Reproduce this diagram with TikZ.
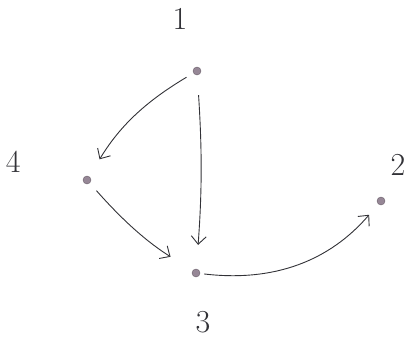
\documentclass[tikz,border=0pt]{standalone}
\usepackage{tikz}
\usetikzlibrary{arrows.meta,positioning}
\definecolor{dotgray}{RGB}{150,135,150}
\definecolor{pencil}{RGB}{50,50,55}

\begin{document}
\begin{tikzpicture}[
    x=1pt, y=-1pt,
    vertex/.style={circle, fill=dotgray, draw=dotgray!70!black, line width=0.4pt, inner sep=0pt, minimum size=8pt},
    num/.style={font=\fontsize{32}{36}\selectfont, text=pencil, inner sep=0pt},
    edge/.style={-{Straight Barb[length=8pt, width=15pt]}, pencil, line width=0.9pt, shorten <=6pt, shorten >=3pt}
]
    \useasboundingbox (0,0) rectangle (413,346);

    % Vertices
    \node[vertex] (n1) at (197,71) {};
    \node[vertex] (n4) at (87,180) {};
    \node[vertex] (n3) at (196,273) {};
    \node[vertex] (n2) at (381,201) {};

    % Numbers
    \node[num, above=37pt of n1, xshift=-17pt] (t1) {1};
    \node[num, left=62pt of n4, yshift=18pt] (t4) {4};
    \node[num, below=34pt of n3, xshift=7pt] (t3) {3};
    \node[num, above=21pt of n2, xshift=17pt] (t2) {2};

    % Arcs
    \draw[edge, shorten <=8pt, shorten >=20pt] (n1) to[bend right=14] (n4);
    \draw[edge, shorten <=20pt, shorten >=24pt] (n1) to[bend left=4] (n3);
    \draw[edge, shorten <=10pt, shorten >=26pt] (n4) to[bend right=8] (n3);
    \draw[edge, shorten <=4pt, shorten >=14pt] (n3) to[bend right=28] (n2);
\end{tikzpicture}
\end{document}
